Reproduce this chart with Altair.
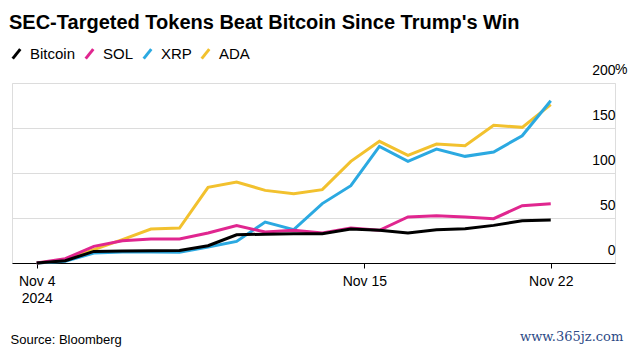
import altair as alt
import pandas as pd

# ---- data -------------------------------------------------------------
dates = [f"2024-11-{d:02d}" for d in range(4, 23)]
series_names = ["Bitcoin", "SOL", "XRP", "ADA"]
series_colors = ["#000000", "#e0268f", "#2ba9e1", "#f2c12e"]

bitcoin = [0, 2.6, 12.9, 13.2, 13.5, 14.0, 19.2, 31.4, 32.0, 32.6, 32.6, 37.7, 36.3, 33.3, 37.0, 38.1, 41.8, 47.0, 47.7]
sol = [0, 4.8, 18.5, 24.8, 26.6, 26.6, 33.3, 41.5, 34.4, 36.3, 33.3, 38.8, 36.3, 51.1, 52.6, 51.1, 49.2, 63.7, 65.8]
xrp = [0, 1.9, 11.1, 12.2, 12.2, 11.9, 17.8, 24.0, 45.5, 37.0, 66.0, 85.9, 129.6, 112.9, 126.6, 118.5, 123.3, 141.4, 180.3]
ada = [0, 3.0, 14.8, 25.9, 37.7, 38.8, 84.0, 90.0, 80.7, 77.0, 81.5, 112.9, 135.2, 119.6, 132.2, 130.4, 153.0, 150.7, 175.9]

y_ticks = [0, 50, 100, 150, 200]
title_text = "SEC-Targeted Tokens Beat Bitcoin Since Trump's Win"
source_text = "Source: Bloomberg"
watermark_text = "www.365jz.com"

# drawing order: ADA first, Bitcoin last (on top)
values = {"Bitcoin": bitcoin, "SOL": sol, "XRP": xrp, "ADA": ada}
rows = []
for name in ["ADA", "XRP", "SOL", "Bitcoin"]:
    for d, v in zip(dates, values[name]):
        rows.append({"date": d, "series": name, "value": v})
df = pd.DataFrame(rows)

W, H = 603, 180
FONT = "Liberation Sans"

x_scale = alt.Scale(
    type="utc",
    domain=[
        alt.DateTime(year=2024, month=11, date=3, hours=3, minutes=14, utc=True),
        alt.DateTime(year=2024, month=11, date=24, hours=6, utc=True),
    ],
)
y_scale = alt.Scale(domain=[0, 200], nice=False, zero=True)

x_axis = alt.Axis(
    values=[
        alt.DateTime(year=2024, month=11, date=4, utc=True),
        alt.DateTime(year=2024, month=11, date=15, hours=11, minutes=20, utc=True),
        alt.DateTime(year=2024, month=11, date=22, utc=True),
    ],
    labelExpr="utcdate(datum.value) == 4 ? [utcFormat(datum.value, '%b %-d'), utcFormat(datum.value, '%Y')] : utcFormat(datum.value, '%b %-d')",
    labelFontSize=14,
    labelFont=FONT,
    labelColor="#000000",
    labelFlush=False,
    labelOverlap=False,
    labelBound=False,
    labelPadding=6,
    labelLineHeight=17,
    tickColor="#000000",
    tickSize=5,
    tickWidth=1,
    domainColor="#000000",
    domainWidth=1,
    grid=False,
    title=source_text,
    titleFont=FONT,
    titleFontSize=13,
    titleFontWeight="normal",
    titleColor="#000000",
    titleAnchor="start",
    titleAlign="left",
    titleBaseline="alphabetic",
    titleX=-2,
    titleY=80,
)

y_axis = alt.Axis(
    orient="right",
    values=y_ticks,
    labelAlign="right",
    labelBaseline="alphabetic",
    labelOffset=-9,
    labelPadding=0,
    ticks=False,
    tickSize=0,
    domain=False,
    grid=True,
    gridColor="#dcdcdc",
    gridWidth=1,
    labelFontSize=14,
    labelFont=FONT,
    labelColor="#000000",
    title=None,
)

lines = alt.Chart(df).mark_line(strokeWidth=3).encode(
    x=alt.X("date:T", scale=x_scale, axis=x_axis),
    y=alt.Y("value:Q", scale=y_scale, axis=y_axis),
    color=alt.Color(
        "series:N",
        scale=alt.Scale(domain=series_names, range=series_colors),
        legend=alt.Legend(
            title=None,
            orient="none",
            legendX=-3,
            legendY=-37,
            direction="horizontal",
            symbolType="M-0.8,1L0.8,-1",
            symbolSize=90,
            symbolStrokeWidth=3,
            labelFontSize=15,
            labelFont=FONT,
            labelColor="#000000",
            labelOffset=6,
            columnPadding=3,
        ),
    ),
)

pct = alt.Chart(pd.DataFrame({"t": ["%"]})).mark_text(
    align="left", baseline="alphabetic", dy=-9, fontSize=14, font=FONT, color="#000000"
).encode(
    x=alt.value(W),
    y=alt.datum(200),
    text="t:N",
)

mark_wm = alt.Chart(pd.DataFrame({"t": [watermark_text]})).mark_text(
    align="left", baseline="alphabetic", fontSize=13, font="DejaVu Serif", color="#2c4a86"
).encode(
    x=alt.value(508),
    y=alt.value(258),
    text="t:N",
)

chart = alt.layer(lines, pct, mark_wm).properties(
    width=W,
    height=H,
    title=alt.TitleParams(
        text=title_text,
        anchor="start",
        font=FONT,
        fontSize=20,
        fontWeight="bold",
        color="#000000",
        baseline="alphabetic",
        offset=11,
        dy=14,
    ),
    autosize=alt.AutoSizeParams(type="none"),
    padding={"left": 12, "top": 83, "right": 26, "bottom": 88},
).configure_view(stroke=None).configure(background="white")

chart.save("out.html", embed_options={"renderer": "svg", "actions": False})
